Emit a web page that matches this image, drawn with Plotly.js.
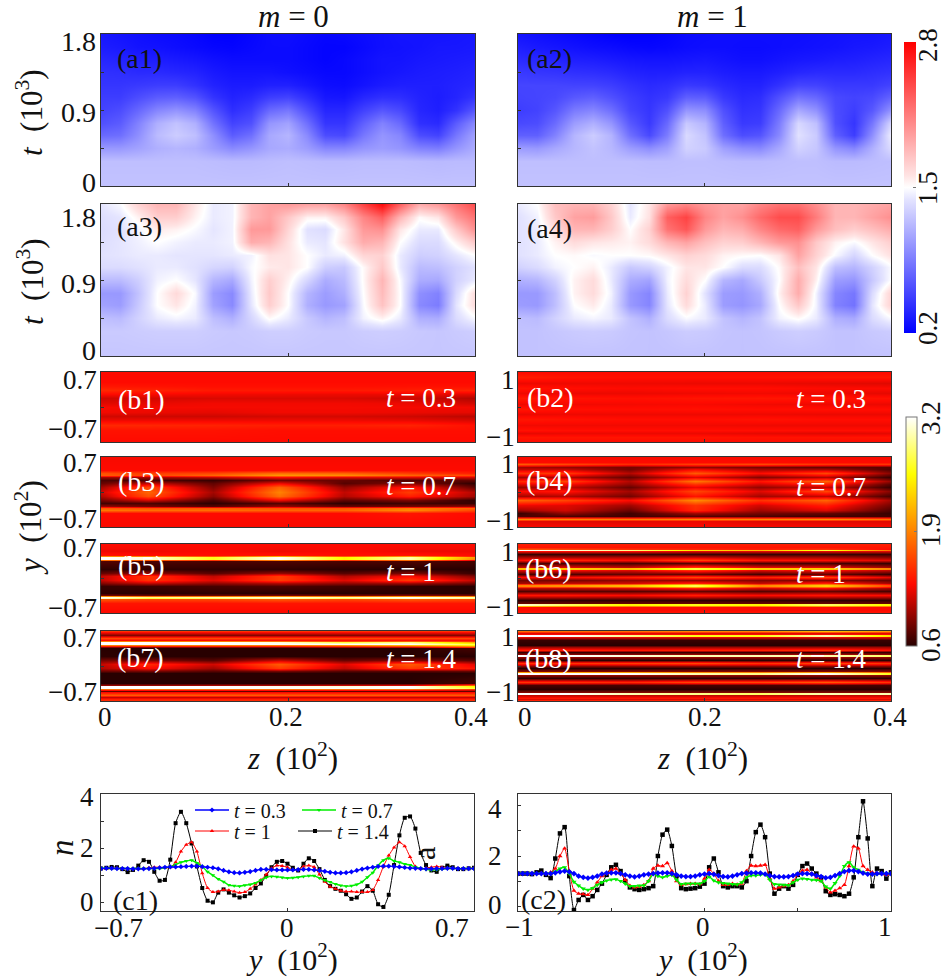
<!DOCTYPE html>
<html><head><meta charset="utf-8">
<script src="https://cdn.plot.ly/plotly-3.0.1.min.js"></script>
<style>html,body{margin:0;padding:0;background:#fff}#g{width:946px;height:980px}</style>
</head><body><div id="g"></div>
<script>
/* ---------- data ---------- */
const zGridA=[0,.02,.04,.06,.08,.1,.12,.14,.16,.18,.2,.22,.24,.26,.28,.3,.32,.34,.36,.38,.4];
const tGrid=[0,.3,.45,.6,.75,.9,1.05,1.2,1.35,1.5,1.65,1.8];
const a1=[
[1.22,1.22,1.22,1.22,1.22,1.22,1.22,1.22,1.22,1.22,1.22,1.22,1.22,1.22,1.22,1.22,1.22,1.22,1.22,1.22,1.22],
[1.2,1.2,1.2,1.2,1.2,1.2,1.19,1.18,1.18,1.19,1.2,1.19,1.18,1.18,1.19,1.19,1.19,1.18,1.17,1.18,1.18],
[1.0,1.0,1.05,1.12,1.15,1.12,1.02,.92,.98,1.08,1.1,1.02,.9,.9,.98,1.02,.98,.88,.85,.98,1.1],
[.75,.78,.95,1.18,1.27,1.2,.95,.68,.78,1.08,1.15,.92,.6,.58,.82,.98,.9,.6,.55,.82,1.05],
[.62,.68,.88,1.12,1.22,1.12,.8,.55,.62,.98,1.05,.78,.48,.48,.7,.88,.75,.45,.42,.68,.92],
[.55,.6,.74,.9,.97,.88,.64,.44,.52,.75,.82,.6,.4,.4,.54,.65,.58,.4,.36,.46,.66],
[.52,.52,.6,.68,.7,.63,.47,.38,.42,.52,.55,.44,.32,.31,.4,.45,.44,.38,.35,.39,.47],
[.48,.48,.5,.52,.52,.46,.38,.34,.34,.37,.37,.32,.27,.26,.3,.34,.36,.36,.36,.38,.4],
[.45,.44,.42,.42,.4,.38,.33,.3,.3,.3,.28,.26,.24,.24,.27,.3,.32,.34,.35,.36,.38],
[.4,.38,.36,.35,.33,.31,.28,.26,.26,.26,.26,.24,.22,.24,.27,.3,.3,.32,.33,.34,.35],
[.35,.33,.3,.29,.27,.25,.23,.22,.24,.26,.26,.24,.22,.22,.25,.28,.29,.3,.32,.32,.33],
[.32,.3,.28,.26,.25,.23,.2,.2,.23,.26,.27,.25,.23,.24,.26,.28,.3,.3,.3,.31,.32]];
const a2=[
[1.22,1.22,1.22,1.22,1.22,1.22,1.22,1.22,1.22,1.22,1.22,1.22,1.22,1.22,1.22,1.22,1.22,1.22,1.22,1.22,1.22],
[1.2,1.2,1.2,1.2,1.2,1.2,1.2,1.19,1.19,1.2,1.2,1.19,1.18,1.18,1.19,1.2,1.2,1.18,1.18,1.19,1.2],
[1.02,1.0,1.08,1.16,1.22,1.16,1.02,.94,1.04,1.3,1.26,1.04,.94,.92,1.08,1.3,1.24,.98,.9,1.12,1.35],
[.7,.7,.88,1.15,1.27,1.14,.78,.58,.85,1.34,1.22,.78,.6,.64,.92,1.38,1.26,.7,.52,.95,1.45],
[.58,.6,.76,1.02,1.12,.98,.66,.5,.75,1.25,1.14,.7,.5,.52,.85,1.33,1.2,.62,.48,.82,1.32],
[.52,.55,.65,.84,.9,.78,.56,.48,.62,.98,.94,.62,.46,.48,.75,1.08,.96,.6,.52,.66,.97],
[.55,.56,.58,.66,.7,.62,.52,.46,.5,.7,.68,.5,.42,.44,.62,.8,.74,.58,.55,.58,.72],
[.56,.56,.56,.55,.55,.52,.46,.42,.44,.5,.48,.42,.38,.38,.46,.56,.55,.5,.5,.5,.55],
[.5,.48,.47,.45,.44,.42,.38,.36,.36,.38,.38,.35,.33,.33,.36,.4,.42,.42,.42,.44,.46],
[.42,.4,.38,.36,.35,.33,.31,.3,.3,.31,.32,.3,.28,.28,.3,.32,.33,.35,.36,.38,.4],
[.36,.33,.31,.29,.27,.26,.24,.23,.24,.26,.27,.27,.26,.26,.27,.28,.29,.3,.32,.33,.35],
[.3,.28,.26,.24,.22,.2,.19,.2,.22,.25,.26,.27,.27,.27,.27,.27,.28,.29,.3,.3,.32]];
const a3=[
[1.24,1.24,1.24,1.24,1.24,1.24,1.24,1.24,1.24,1.24,1.24,1.24,1.24,1.24,1.24,1.24,1.24,1.24,1.24,1.24,1.24],
[1.26,1.26,1.27,1.28,1.28,1.28,1.26,1.25,1.26,1.28,1.28,1.26,1.25,1.25,1.27,1.28,1.27,1.25,1.24,1.26,1.28],
[1.2,1.18,1.3,1.42,1.46,1.42,1.2,1.12,1.32,1.52,1.42,1.25,1.15,1.2,1.45,1.55,1.42,1.12,1.1,1.35,1.48],
[1.05,1.02,1.25,1.5,1.6,1.45,1.05,.92,1.4,1.72,1.5,1.12,1.0,1.05,1.48,1.78,1.5,.92,.85,1.4,1.65],
[1.0,1.0,1.22,1.5,1.66,1.48,1.02,.92,1.42,1.75,1.5,1.15,1.02,1.12,1.5,1.82,1.5,.95,.88,1.35,1.65],
[1.18,1.18,1.28,1.45,1.5,1.4,1.15,1.08,1.45,1.72,1.55,1.32,1.1,1.18,1.52,1.85,1.48,1.1,1.08,1.3,1.42],
[1.35,1.35,1.38,1.42,1.42,1.38,1.32,1.3,1.48,1.58,1.6,1.5,1.28,1.25,1.52,1.75,1.42,1.18,1.2,1.3,1.38],
[1.38,1.4,1.42,1.42,1.4,1.4,1.4,1.42,1.45,1.62,1.6,1.5,1.42,1.45,1.68,1.7,1.42,1.28,1.3,1.4,1.5],
[1.36,1.4,1.44,1.5,1.45,1.42,1.42,1.45,1.9,1.85,1.62,1.42,1.4,1.62,1.9,1.85,1.5,1.35,1.35,1.55,1.75],
[1.35,1.38,1.46,1.58,1.55,1.48,1.4,1.45,2.0,2.0,1.68,1.38,1.35,1.6,2.0,2.05,1.6,1.42,1.42,1.75,2.05],
[1.36,1.4,1.55,1.72,1.72,1.55,1.42,1.45,1.85,1.95,1.75,1.55,1.55,1.75,2.1,2.3,1.85,1.52,1.6,2.0,2.2],
[1.4,1.48,1.7,1.85,1.85,1.6,1.42,1.45,1.85,1.95,2.0,1.95,1.95,2.1,2.45,2.75,2.3,1.9,2.0,2.2,2.4]];
const a4=[
[1.22,1.22,1.22,1.22,1.22,1.22,1.22,1.22,1.22,1.22,1.22,1.22,1.22,1.22,1.22,1.22,1.22,1.22,1.22,1.22,1.22],
[1.22,1.22,1.24,1.26,1.27,1.26,1.23,1.22,1.24,1.27,1.26,1.23,1.22,1.23,1.26,1.28,1.26,1.22,1.22,1.25,1.27],
[1.2,1.18,1.3,1.42,1.46,1.42,1.22,1.12,1.35,1.48,1.42,1.22,1.15,1.22,1.45,1.52,1.42,1.12,1.08,1.35,1.48],
[1.02,1.0,1.2,1.5,1.58,1.42,1.0,.9,1.4,1.65,1.42,1.02,.98,1.08,1.5,1.75,1.45,.88,.8,1.4,1.7],
[1.0,1.0,1.2,1.55,1.65,1.45,1.0,.9,1.42,1.7,1.38,1.02,1.0,1.12,1.55,1.9,1.45,.9,.82,1.35,1.7],
[1.12,1.15,1.3,1.55,1.65,1.42,1.1,1.05,1.45,1.65,1.5,1.15,1.08,1.25,1.5,1.9,1.55,1.02,.98,1.25,1.5],
[1.3,1.35,1.45,1.5,1.55,1.42,1.25,1.3,1.45,1.6,1.6,1.5,1.35,1.35,1.52,1.8,1.6,1.2,1.15,1.3,1.48],
[1.38,1.42,1.5,1.52,1.48,1.5,1.5,1.52,1.6,1.7,1.65,1.55,1.52,1.5,1.6,1.95,1.7,1.48,1.32,1.5,1.62],
[1.38,1.42,1.55,1.65,1.6,1.58,1.55,1.65,1.85,1.95,1.8,1.7,1.72,1.85,2.0,2.05,1.75,1.55,1.48,1.6,1.72],
[1.38,1.42,1.65,1.85,1.85,1.72,1.5,1.7,2.2,2.35,2.0,1.85,1.9,2.1,2.25,2.3,2.0,1.8,1.72,1.8,1.9],
[1.38,1.45,1.75,1.95,1.98,1.75,1.42,1.62,2.3,2.45,2.1,1.95,2.05,2.25,2.4,2.4,2.15,1.85,1.85,1.95,2.05],
[1.42,1.5,1.8,1.85,1.85,1.7,1.4,1.6,2.0,2.1,2.0,1.95,1.95,2.1,2.2,2.2,2.05,1.85,1.85,1.9,1.95]];

const zGridB=[0,.05,.12,.19,.26,.33,.4];
const b1Y=[.7,.5,.42,.35,.27,.18,.09,0,-.09,-.18,-.26,-.35,-.45,-.7];
const b1=[
[1.3,1.3,1.3,1.3,1.3,1.3,1.3],[1.3,1.3,1.3,1.3,1.3,1.3,1.3],[1.36,1.34,1.32,1.32,1.32,1.33,1.33],
[1.45,1.42,1.37,1.37,1.37,1.39,1.42],[1.3,1.28,1.26,1.25,1.24,1.24,1.2],[1.14,1.16,1.18,1.18,1.18,1.14,1.05],
[1.2,1.22,1.26,1.26,1.26,1.24,1.15],[1.28,1.27,1.27,1.27,1.27,1.27,1.26],[1.26,1.24,1.22,1.26,1.26,1.24,1.22],
[1.15,1.14,1.14,1.16,1.16,1.14,1.08],[1.25,1.25,1.25,1.25,1.25,1.23,1.18],[1.45,1.44,1.42,1.4,1.4,1.42,1.33],
[1.34,1.34,1.34,1.32,1.32,1.32,1.32],[1.3,1.3,1.3,1.3,1.3,1.3,1.3]];
const b3Y=[.7,.45,.38,.34,.3,.25,.18,.1,0,-.08,-.16,-.22,-.27,-.32,-.36,-.42,-.7];
const b3=[
[1.28,1.28,1.28,1.28,1.28,1.28,1.28],[1.3,1.3,1.3,1.3,1.3,1.3,1.3],[1.65,1.55,1.6,1.8,1.75,1.55,1.4],
[1.7,1.6,1.75,2.0,1.95,1.75,1.6],[1.0,1.0,1.1,1.3,1.2,1.2,1.15],[.72,.72,.65,.85,.8,.72,.8],
[.8,1.1,.78,1.25,.75,.9,.62],[1.0,1.6,.88,1.75,.95,1.35,.78],[1.15,1.75,1.0,1.9,1.1,1.55,1.05],
[1.05,1.65,.92,1.8,1.05,1.4,1.0],[.85,1.15,.72,1.25,.78,.88,.62],[.68,.72,.62,.75,.62,.68,.65],
[.95,.85,.75,.95,.8,.85,.95],[1.7,1.65,1.7,1.65,1.65,1.85,1.75],[1.85,1.8,1.8,1.75,1.75,1.95,1.6],
[1.3,1.3,1.3,1.3,1.3,1.35,1.3],[1.28,1.28,1.28,1.28,1.28,1.28,1.28]];
const b5Y=[.7,.55,.47,.45,.43,.4,.38,.36,.2,.12,.05,-.03,-.1,-.15,-.3,-.34,-.365,-.38,-.4,-.425,-.5,-.7];
const b5=[
[1.3,1.3,1.3,1.3,1.3,1.3,1.3],[1.25,1.25,1.3,1.25,1.3,1.25,1.25],[1.35,1.32,1.32,1.35,1.32,1.35,1.3],
[1.95,1.9,1.7,2.1,1.7,2.0,1.4],[3.2,3.1,2.6,3.2,2.5,3.0,2.0],[3.2,3.1,2.6,3.2,2.5,3.0,1.9],[1.8,1.7,1.5,1.9,1.5,1.8,1.2],[.75,.72,.72,.72,.72,.72,.7],
[.62,.62,.62,.62,.6,.6,.6],[.8,.95,.75,.95,.75,.88,.65],[1.1,1.5,1.1,1.55,1.05,1.3,.9],
[1.1,1.5,1.2,1.55,1.2,1.55,1.1],[.9,1.1,.95,1.05,.95,1.0,.85],[.65,.66,.7,.72,.68,.62,.6],
[.62,.6,.62,.6,.6,.6,.6],[.85,.8,.8,.85,.82,.9,.85],[2.0,1.8,1.85,1.95,1.85,2.0,1.9],[3.2,2.9,3.0,3.1,3.0,3.2,3.0],[3.1,2.7,2.8,3.0,2.8,3.1,2.9],[1.7,1.6,1.6,1.7,1.6,1.7,1.6],[1.35,1.35,1.35,1.35,1.35,1.35,1.35],[1.28,1.28,1.28,1.28,1.28,1.28,1.28]];
const b7Y=[.7,.68,.63,.57,.52,.5,.48,.44,.42,.39,.36,.2,.13,.05,-.03,-.1,-.14,-.34,-.375,-.395,-.44,-.46,-.49,-.52,-.57,-.61,-.66,-.7];
const b7=[
[1.5,1.5,1.5,1.5,1.5,1.5,1.5],[1.3,1.3,1.3,1.3,1.3,1.3,1.3],[.9,.9,.9,.9,.9,.9,.9],[1.6,1.6,1.6,1.6,1.6,1.6,1.6],
[1.3,1.3,1.3,1.3,1.3,1.3,1.3],[1.9,1.9,1.9,1.8,1.6,1.7,1.5],[3.2,3.2,3.2,3.1,2.7,2.9,2.1],[3.2,3.2,3.2,3.2,3.2,3.2,2.7],[1.9,1.9,1.9,1.9,2.0,2.2,2.5],[.9,.9,.9,.9,1.0,1.1,1.5],
[.6,.6,.6,.6,.6,.6,.7],[.62,.6,.6,.6,.6,.6,.6],[.85,.88,.75,1.1,.8,.9,.75],[1.1,1.45,1.15,1.7,1.2,1.7,1.2],
[1.05,1.3,1.0,1.55,1.1,1.55,1.35],[.8,.85,.75,.85,.75,.75,.8],[.6,.6,.6,.6,.6,.6,.6],[.6,.6,.6,.6,.6,.6,.7],
[.95,.95,1.0,1.0,1.1,1.15,1.7],[3.2,3.2,3.2,3.15,3.1,3.2,2.5],[3.2,3.2,3.2,3.2,3.2,3.2,2.7],[1.8,1.8,1.8,1.8,1.8,1.8,1.5],[.8,.8,.8,.8,.8,.8,.8],
[1.3,1.3,1.3,1.3,1.3,1.3,1.3],[1.7,1.7,1.7,1.7,1.7,1.7,1.7],[1.1,1.1,1.1,1.1,1.1,1.1,1.1],[1.4,1.4,1.4,1.4,1.4,1.4,1.4],[1.5,1.5,1.5,1.5,1.5,1.5,1.5]];
const b2Y=[1,.85,.7,.55,.4,.25,.1,-.05,-.2,-.35,-.5,-.65,-.75,-.85,-1];
const b2=[
[1.3,1.3,1.3,1.3,1.3,1.3,1.3],[1.4,1.35,1.32,1.32,1.33,1.35,1.36],[1.24,1.25,1.25,1.24,1.24,1.22,1.2],[1.35,1.32,1.3,1.32,1.32,1.3,1.3],
[1.25,1.24,1.24,1.25,1.26,1.24,1.22],[1.38,1.35,1.33,1.35,1.36,1.35,1.34],[1.25,1.26,1.27,1.28,1.26,1.25,1.24],[1.36,1.33,1.32,1.33,1.32,1.33,1.32],
[1.24,1.25,1.25,1.25,1.25,1.24,1.24],[1.36,1.34,1.32,1.32,1.34,1.32,1.32],[1.26,1.26,1.26,1.26,1.25,1.25,1.25],[1.34,1.32,1.32,1.32,1.32,1.32,1.32],
[1.22,1.24,1.24,1.24,1.22,1.2,1.22],[1.36,1.35,1.35,1.35,1.34,1.35,1.35],[1.3,1.3,1.3,1.3,1.3,1.3,1.3]];
const b4Y=[1,.85,.79,.72,.65,.54,.43,.31,.22,.14,.03,-.1,-.24,-.38,-.5,-.6,-.68,-.76,-.82,-1];
const b4=[
[1.28,1.28,1.28,1.28,1.28,1.28,1.28],[1.3,1.3,1.3,1.3,1.3,1.3,1.3],[1.7,1.6,1.45,1.55,1.6,1.5,1.5],[1.0,.95,.85,.95,.85,.8,.75],
[1.1,1.1,.85,1.25,1.0,1.0,.72],[1.5,1.55,1.05,1.7,1.3,1.6,.9],[1.0,1.05,.8,1.2,.9,1.05,.65],[1.45,1.6,1.05,1.85,1.35,1.75,.95],
[1.2,1.3,.95,1.5,1.15,1.4,.75],[.95,1.1,.8,1.25,.95,1.1,.65],[1.3,1.35,1.0,1.6,1.2,1.6,.9],[1.0,1.05,.85,1.35,1.0,1.1,.7],
[1.75,1.6,1.3,1.95,1.5,1.75,1.0],[1.25,1.2,1.0,1.5,1.15,1.4,.85],[1.0,1.15,.82,1.45,1.0,1.2,.72],[.65,.95,.68,1.0,.85,.8,.65],
[.72,.72,.68,.75,.72,.68,.68],[1.95,1.9,1.85,1.9,1.9,1.95,1.8],[1.2,1.2,1.2,1.25,1.2,1.2,1.2],[1.28,1.28,1.28,1.28,1.28,1.28,1.28]];
const b6Y=[1,.9,.86,.84,.82,.79,.71,.62,.55,.44,.34,.31,.28,.24,.14,.05,-.03,-.12,-.19,-.23,-.28,-.36,-.48,-.62,-.7,-.745,-.77,-.82,-.92,-1];
const b6=[
[1.4,1.4,1.4,1.4,1.4,1.4,1.4],[1.35,1.35,1.35,1.35,1.35,1.35,1.35],[1.7,1.6,1.5,1.45,1.4,1.5,1.3],[3.2,3.1,2.9,2.4,2.2,2.7,1.8],[3.2,3.1,2.9,2.4,2.2,2.7,1.8],
[1.3,1.3,1.3,1.2,1.2,1.2,1.2],[.65,.65,.65,.65,.65,.65,.65],[1.0,1.0,1.05,1.1,1.0,1.0,.9],[1.3,1.45,1.3,1.6,1.35,1.3,1.2],
[.7,.72,.7,.75,.7,.7,.65],[1.1,1.2,1.1,1.5,1.2,1.2,1.0],[2.2,2.3,2.2,2.7,2.3,2.3,1.9],[2.2,2.3,2.2,2.7,2.3,2.3,1.9],[1.2,1.3,1.2,1.5,1.2,1.3,1.1],
[.7,.72,.8,.8,.7,.8,.65],[1.3,1.3,1.4,1.6,1.4,1.6,1.2],[.85,.85,.95,.95,.9,.9,.8],[1.0,1.1,1.15,1.4,1.1,1.4,1.0],
[1.9,2.0,2.2,2.75,1.9,2.3,1.6],[1.9,2.0,2.2,2.75,1.9,2.3,1.6],[1.1,1.1,1.2,1.4,1.15,1.3,1.0],[.72,.75,.75,.8,.75,.8,.7],[1.35,1.35,1.3,1.4,1.3,1.35,1.3],
[.62,.62,.62,.62,.62,.62,.62],[.8,.8,.8,.8,.8,.8,.8],[3.1,2.8,2.5,2.6,2.5,2.8,2.5],[3.1,2.8,2.5,2.6,2.5,2.8,2.5],[1.3,1.3,1.3,1.3,1.3,1.3,1.3],[1.3,1.3,1.3,1.3,1.3,1.3,1.3],[1.35,1.35,1.35,1.35,1.35,1.35,1.35]];
const b8Y=[1,.94,.89,.875,.845,.82,.75,.6,.53,.47,.4,.35,.315,.285,.25,.18,.08,0,-.07,-.15,-.195,-.225,-.27,-.34,-.46,-.54,-.67,-.74,-.765,-.795,-.83,-.9,-.95,-1];
const b8=[
[1.8,1.8,1.8,1.9,1.9,2.2,2.0],[1.2,1.2,1.2,1.2,1.2,1.2,1.2],[1.4,1.4,1.4,1.4,1.4,1.4,1.4],[3.2,3.2,2.9,2.6,2.6,3.0,2.4],[3.2,3.2,2.9,2.6,2.6,3.0,2.4],
[1.2,1.2,1.2,1.2,1.2,1.2,1.2],[.65,.65,.65,.65,.65,.65,.65],[.6,.6,.6,.6,.6,.6,.6],[1.0,1.0,1.0,1.0,1.0,1.0,1.0],
[1.4,1.4,1.35,1.4,1.4,1.5,1.3],[.65,.65,.65,.65,.65,.65,.65],[.9,.9,.9,.95,.9,1.0,.9],[3.2,3.2,3.1,3.0,3.0,3.0,2.8],[3.2,3.2,3.1,3.0,3.0,3.0,2.8],
[.95,.95,.95,.95,.95,.95,.95],[.62,.62,.62,.62,.62,.62,.62],[1.5,1.5,1.55,1.6,1.5,1.6,1.5],[.9,.9,.9,.9,.9,.9,.9],
[.6,.6,.6,.6,.6,.6,.6],[.9,.9,.9,.9,.9,.9,.9],[3.2,3.2,3.2,3.0,2.9,3.2,2.6],[3.2,3.2,3.2,3.0,2.9,3.2,2.6],[.95,.95,.95,.95,.95,.95,.95],
[.62,.62,.62,.62,.62,.62,.62],[1.5,1.5,1.45,1.6,1.6,1.7,1.5],[.7,.7,.7,.7,.7,.7,.7],[.6,.6,.6,.6,.6,.6,.6],
[.9,.9,.9,.9,.9,.9,.9],[3.2,3.2,3.0,2.9,2.8,3.0,3.0],[3.2,3.2,3.0,2.9,2.8,3.0,3.0],[1.1,1.1,1.1,1.1,1.1,1.1,1.1],[1.35,1.35,1.35,1.35,1.35,1.35,1.35],[1.2,1.2,1.2,1.2,1.2,1.2,1.2],[1.6,1.6,1.6,1.6,1.6,1.6,1.6]];

const c1Blue=[1.27,1.28,1.28,1.27,1.27,1.27,1.26,1.26,1.26,1.27,1.28,1.3,1.32,1.33,1.33,1.34,1.35,1.36,1.36,1.34,1.32,1.3,1.26,1.2,1.15,1.12,1.11,1.13,1.16,1.2,1.24,1.24,1.23,1.22,1.22,1.22,1.22,1.23,1.24,1.24,1.22,1.2,1.17,1.13,1.11,1.11,1.12,1.15,1.2,1.25,1.29,1.32,1.35,1.36,1.36,1.35,1.33,1.31,1.29,1.28,1.27,1.26,1.26,1.27,1.27,1.28,1.28,1.27,1.27,1.27,1.27];
const c1Green=[1.28,1.28,1.27,1.27,1.27,1.27,1.27,1.27,1.27,1.27,1.27,1.27,1.3,1.33,1.42,1.5,1.55,1.58,1.48,1.35,1.15,1.02,.88,.78,.66,.63,.62,.65,.68,.74,.84,.94,.98,.97,.94,.92,.93,.95,.98,1.0,1.0,.92,.84,.77,.7,.64,.62,.63,.68,.78,.95,1.12,1.38,1.58,1.65,1.55,1.5,1.44,1.4,1.33,1.28,1.24,1.22,1.23,1.25,1.27,1.27,1.27,1.27,1.27,1.27];
const c1Red=[1.27,1.27,1.28,1.28,1.27,1.27,1.27,1.26,1.27,1.3,1.32,1.32,1.3,1.32,1.5,1.9,2.15,2.24,1.9,1.1,.55,.4,.42,.48,.47,.42,.38,.4,.52,.68,.85,1.05,1.28,1.38,1.37,1.32,1.22,1.22,1.35,1.38,1.33,1.05,.78,.6,.52,.45,.42,.42,.4,.4,.4,.48,.85,1.35,1.75,2.05,2.24,2.1,1.7,1.35,1.25,1.28,1.32,1.35,1.32,1.28,1.28,1.28,1.27,1.27,1.28];
const c1Black=[1.27,1.3,1.33,1.32,1.25,1.14,1.22,1.38,1.58,1.52,1.15,.82,.85,1.6,2.95,3.37,2.95,2.2,1.35,.55,.08,.02,.38,.5,.38,.28,.2,.25,.35,.55,.72,1.0,1.32,1.52,1.55,1.45,1.3,1.2,1.45,1.65,1.55,1.25,.85,.62,.52,.45,.32,.15,.2,.42,.62,.45,-.05,-.15,.3,1.4,2.5,3.15,3.2,2.75,1.85,1.4,1.2,1.15,1.3,1.38,1.32,1.25,1.25,1.28,1.3];
const c2Blue=[1.3,1.3,1.3,1.3,1.3,1.3,1.3,1.3,1.33,1.37,1.4,1.37,1.3,1.2,1.15,1.12,1.15,1.2,1.28,1.32,1.33,1.33,1.3,1.25,1.2,1.17,1.2,1.25,1.28,1.3,1.32,1.33,1.33,1.3,1.25,1.2,1.18,1.18,1.2,1.25,1.28,1.3,1.27,1.22,1.18,1.17,1.2,1.25,1.3,1.32,1.33,1.33,1.32,1.28,1.22,1.18,1.17,1.17,1.18,1.22,1.28,1.3,1.3,1.28,1.22,1.18,1.13,1.15,1.22,1.3,1.38,1.42,1.42,1.38,1.32,1.28,1.28,1.3,1.3,1.3,1.3];
const c2Green=[1.3,1.3,1.3,1.3,1.3,1.3,1.3,1.32,1.38,1.5,1.55,1.3,.97,.82,.7,.65,.72,.85,.95,1.02,1.06,1.07,1.0,.9,.8,.8,.82,.83,1.0,1.28,1.2,1.15,1.2,1.24,1.05,.88,.9,.9,.9,.9,1.0,1.17,1.02,.95,.92,.9,.88,.87,.95,1.15,1.22,1.22,1.25,1.27,1.05,.88,.86,.85,.84,.95,1.05,1.1,1.08,1.05,1.04,1.0,.78,.7,.92,1.2,1.6,1.75,1.55,1.45,1.35,1.3,1.28,1.28,1.3,1.3,1.3];
const c2Red=[1.3,1.3,1.3,1.3,1.3,1.32,1.3,1.35,1.5,2.0,2.3,1.4,.62,.5,.48,.45,.7,.95,1.2,1.3,1.45,1.5,1.3,1.05,.82,.75,.78,.85,1.0,1.5,1.62,1.6,1.72,1.4,1.0,.85,.88,.9,.9,.88,1.1,1.45,1.3,1.0,.85,.85,.9,.87,.9,1.4,1.62,1.6,1.62,1.65,1.1,.7,.75,.8,.85,1.0,1.25,1.42,1.45,1.3,1.15,1.0,.75,.55,.62,.72,.85,1.6,2.38,2.3,1.6,1.45,1.35,1.3,1.3,1.25,1.3];
const c2Black=[1.3,1.3,1.3,1.28,1.35,1.42,1.25,1.12,1.9,2.9,3.15,1.2,-.15,.25,.45,.25,.4,.65,.9,1.25,1.55,1.65,1.4,1.0,.75,.68,.65,.68,.72,.8,2.0,2.85,3.05,2.4,1.2,.72,.68,.7,.72,.78,.9,1.55,1.9,1.35,.8,.75,.8,.8,.75,1.0,2.0,2.95,3.25,2.75,1.3,.5,.7,.8,.7,.85,1.25,1.6,1.7,1.5,1.3,1.15,.6,.45,.48,.45,.4,.5,1.15,2.75,4.18,2.7,.8,1.5,1.4,1.1,1.35];
const c1Y=c1Blue.map((_,k)=>+(-.7+.02*k).toFixed(3));
const c2Y=c2Blue.map((_,k)=>+(-1+.025*k).toFixed(3));
const seriesNames=['<i>t</i> = 0.3','<i>t</i> = 0.7','<i>t</i> = 1','<i>t</i> = 1.4'];

/* ---------- styling / layout ---------- */
const W=946,H=980,F='"Liberation Serif",serif',AXC='#333';
const csA=[[0,'rgb(0,0,255)'],[.46,'rgb(228,228,255)'],[.5,'rgb(255,255,255)'],[.54,'rgb(255,228,228)'],[1,'rgb(255,0,0)']];
const csB=[[0,'rgb(40,0,0)'],[.27,'rgb(255,10,0)'],[.5,'rgb(255,130,0)'],[.75,'rgb(255,255,0)'],[1,'rgb(255,255,255)']];
const LX=[101,475],RX=[518,891];
const panels=[
 {k:'a1',z:a1,y:tGrid,box:[...LX,34,186],type:'a'},{k:'a2',z:a2,y:tGrid,box:[...RX,34,186],type:'a'},
 {k:'a3',z:a3,y:tGrid,box:[...LX,204,356],type:'a'},{k:'a4',z:a4,y:tGrid,box:[...RX,204,356],type:'a'},
 {k:'b1',z:b1,y:b1Y,box:[...LX,372,442],type:'b'},{k:'b2',z:b2,y:b2Y,box:[...RX,372,442],type:'b'},
 {k:'b3',z:b3,y:b3Y,box:[...LX,457,527],type:'b'},{k:'b4',z:b4,y:b4Y,box:[...RX,457,527],type:'b'},
 {k:'b5',z:b5,y:b5Y,box:[...LX,544,613],type:'b'},{k:'b6',z:b6,y:b6Y,box:[...RX,544,613],type:'b'},
 {k:'b7',z:b7,y:b7Y,box:[...LX,631,701],type:'b'},{k:'b8',z:b8,y:b8Y,box:[...RX,631,701],type:'b'}];
const px=x=>x/W, py=y=>1-y/H;
const layout={width:W,height:H,margin:{l:0,r:0,t:0,b:0},paper_bgcolor:'#fff',plot_bgcolor:'#fff',font:{family:F,color:'#111'},annotations:[],showlegend:true};
const data=[];
function addAxes(i,box,xr,yr,xt,yt){
  const s=i===0?'':String(i+1);
  layout['xaxis'+s]={domain:[px(box[0]),px(box[1])],range:xr,anchor:'y'+s,showgrid:false,zeroline:false,showticklabels:false,ticks:'inside',ticklen:3,tickwidth:1,tickcolor:AXC,tickvals:xt,showline:true,mirror:true,linecolor:AXC,linewidth:1};
  layout['yaxis'+s]={domain:[py(box[3]),py(box[2])],range:yr,anchor:'x'+s,showgrid:false,zeroline:false,showticklabels:false,ticks:'inside',ticklen:3,tickwidth:1,tickcolor:AXC,tickvals:yt,showline:true,mirror:true,linecolor:AXC,linewidth:1};
  return s;
}
panels.forEach((p,i)=>{
  const isA=p.type==='a', right=i%2===1;
  const yr=isA?[0,1.8]:(right?[-1,1]:[-.7,.7]);
  const s=addAxes(i,p.box,[0,.4],yr,[.2],isA?[.45,.9,1.35]:[0]);
  const rev=!isA;
  const tr={type:'heatmap',x:isA?zGridA:zGridB,y:rev?[...p.y].reverse():p.y,z:rev?[...p.z].reverse():p.z,xaxis:'x'+s,yaxis:'y'+s,
    zsmooth:'best',colorscale:isA?csA:csB,zmin:isA?.2:.6,zmax:isA?2.8:3.2,showscale:false,hoverinfo:'skip',showlegend:false};
  if(p.k==='a1'){tr.showscale=true;tr.colorbar={x:px(904),xanchor:'left',xpad:0,y:py(333),yanchor:'bottom',ypad:0,len:291,lenmode:'pixels',thickness:11.5,thicknessmode:'pixels',tickvals:[1.5],showticklabels:false,ticks:'inside',ticklen:3,tickcolor:'#777',outlinewidth:0};}
  if(p.k==='b1'){tr.showscale=true;tr.colorbar={x:px(906),xanchor:'left',xpad:0,y:py(646),yanchor:'bottom',ypad:0,len:229,lenmode:'pixels',thickness:11,thicknessmode:'pixels',tickvals:[1.9],showticklabels:false,ticks:'inside',ticklen:3,tickcolor:'#777',outlinewidth:1,outlinecolor:'#777'};}
  data.push(tr);
});
const s13=addAxes(12,[101,474,794,911],[-.7,.7],[-.3,4.03],[0],[0,1,2,3,4]);
const s14=addAxes(13,[518,891,794,911],[-1,1],[-.19,4.47],[-.5,0,.5],[0,1,2,3,4]);
const style=[{c:'#0000ff',m:'diamond',w:1.4},{c:'#00ee00',m:'triangle-down',w:1.4},{c:'#ff0000',m:'triangle-up',w:1},{c:'#000',m:'square',w:1}];
const legendIds=['legend','legend2','legend3','legend4'];
const legendPos=[[190,810],[297,810],[190,831],[293,831]];
legendIds.forEach((id,i)=>{layout[id]={x:px(legendPos[i][0]),y:py(legendPos[i][1]),xanchor:'left',yanchor:'middle',bgcolor:'rgba(0,0,0,0)',borderwidth:0,itemwidth:34,font:{family:F,size:20,color:'#111'},tracegroupgap:0};});
function addCurves(xs,ys,s,leg,sz){
  [3,2,1,0].forEach(j=>{
    data.push({type:'scatter',mode:'lines+markers',x:xs,y:ys[j],name:seriesNames[j],xaxis:'x'+s,yaxis:'y'+s,cliponaxis:true,
      line:{color:style[j].c,width:style[j].w,shape:'spline',smoothing:.6},marker:{symbol:style[j].m,color:style[j].c,size:sz},
      showlegend:leg,legend:legendIds[j],hoverinfo:'skip'});
  });
}
addCurves(c1Y,[c1Blue,c1Green,c1Red,c1Black],s13,true,4);
addCurves(c2Y,[c2Blue,c2Green,c2Red,c2Black],s14,false,4.5);

/* text */
function T(text,x,y,o={}){layout.annotations.push(Object.assign({text,x:px(x),y:py(y),xref:'paper',yref:'paper',showarrow:false,xanchor:'center',yanchor:'middle',borderpad:0,font:{family:F,size:o.size||25,color:o.color||'#111'}},o.extra||{}));}
const R={extra:{xanchor:'right'}},Lf=x=>({extra:{xanchor:'left'},...x}),TS=27,TT=31;
[['1.8',42],['0.9',113],['0',182]].forEach(a=>T(a[0],97,a[1],{...R,size:TS+1}));
[['1.8',217],['0.9',283],['0',350]].forEach(a=>T(a[0],97,a[1],{...R,size:TS+1}));
[[380,429],[463,519],[548,608],[638,692]].forEach(a=>{T('0.7',98,a[0],{...R,size:TS});T('\u22120.7',98,a[1],{...R,size:TS});});
[[380,437],[464,521],[552,607],[637,692]].forEach(a=>{T('1',516,a[0],{...R,size:TS});T('\u22121',516,a[1],{...R,size:TS});});
[['0',105],['0.2',286],['0.4',471]].forEach(a=>T(a[0],a[1],717,{size:TS}));
[['0',525],['0.2',705],['0.4',890]].forEach(a=>T(a[0],a[1],717,{size:TS}));
[['4',797],['2',848],['0',902]].forEach(a=>T(a[0],95,a[1],{...R,size:TS}));
[['\u22120.7',118],['0',287],['0.7',452]].forEach(a=>T(a[0],a[1],928,{size:TS}));
[['4',809],['2',856],['0',905]].forEach(a=>T(a[0],503,a[1],{...R,size:TS}));
[['\u22121',519],['0',703],['1',885]].forEach(a=>T(a[0],a[1],927,{size:TS}));
const V={extra:{textangle:-90}};
[['2.8',45],['1.5',188],['0.2',328]].forEach(a=>T(a[0],928,a[1],{...V,size:TS}));
[['3.2',418],['1.9',530],['0.6',645]].forEach(a=>T(a[0],931,a[1],{...V,size:TS}));
T('<i>m</i>\u00a0=\u00a00',293,17,{size:TT});T('<i>m</i>\u00a0=\u00a01',712,17,{size:TT});
T('<i>t</i>\u00a0\u00a0(10<sup>3</sup>)',30,113,{...V,size:TT});T('<i>t</i>\u00a0\u00a0(10<sup>3</sup>)',30,282,{...V,size:TT});
T('<i>y</i>\u00a0\u00a0(10<sup>2</sup>)',28,528,{...V,size:TT});T('<i>n</i>',62,848,{...V,size:TT+2});
T('<i>z</i>\u00a0\u00a0(10<sup>2</sup>)',292,756,{size:TT});T('<i>z</i>\u00a0\u00a0(10<sup>2</sup>)',702,756,{size:TT});
T('<i>y</i>\u00a0\u00a0(10<sup>2</sup>)',292,957,{size:30});T('<i>y</i>\u00a0\u00a0(10<sup>2</sup>)',702,957,{size:30});
[['(a1)',116,59],['(a3)',116,226],['(a2)',526,59],['(a4)',526,228]].forEach(a=>T(a[0],a[1],a[2],Lf({size:28})));
const W2='#fff';
[['(b1)',117,399],['(b3)',117,481],['(b5)',117,565],['(b7)',116,657],['(b2)',526,397],['(b4)',525,480],['(b6)',524,568],['(b8)',524,658]].forEach(a=>T(a[0],a[1],a[2],Lf({size:28,color:W2})));
[['0.3',385,398],['0.7',385,486],['1',385,572],['1.4',385,659]].forEach(a=>T('<i>t</i>\u00a0=\u00a0'+a[0],a[1],a[2],Lf({size:27,color:W2})));
[['0.3',795,399],['0.7',795,487],['1',795,574],['1.4',795,659]].forEach(a=>T('<i>t</i>\u00a0=\u00a0'+a[0],a[1],a[2],Lf({size:27,color:W2})));
T('(c1)',112,900,Lf({size:28}));T('(c2)',520,899,Lf({size:28}));
T('a',424,854,{size:30,extra:{textangle:-90}});

Plotly.newPlot('g',data,layout,{staticPlot:true,displayModeBar:false});
</script></body></html>
